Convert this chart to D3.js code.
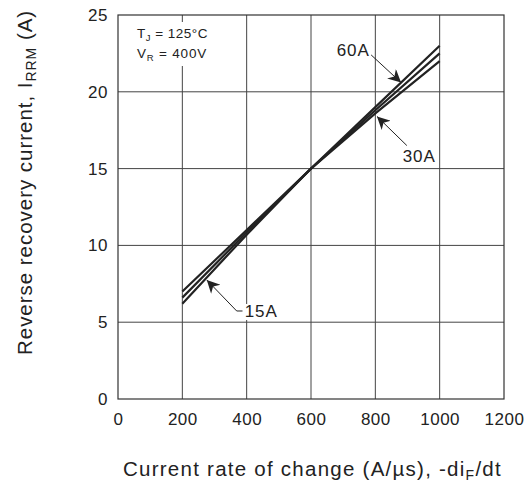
<!DOCTYPE html>
<html>
<head>
<meta charset="utf-8">
<script src="https://cdn.jsdelivr.net/npm/d3@7"></script>
<style>
  body { margin: 0; background: #fff; }
  text { font-family: "Liberation Sans", Arial, sans-serif; fill: #222; }
</style>
</head>
<body>
<div id="chart"></div>
<script>
// di/dt values (A/us) where the curves were read
const rates = [200, 400, 600, 800, 1000];
// IRRM (A) per forward current
const irrm15 = [6.2, 10.7, 15.0, 18.6, 22.0];
const irrm30 = [6.6, 10.85, 15.0, 18.8, 22.5];
const irrm60 = [7.0, 11.0, 15.0, 19.0, 23.0];
const seriesNames = ["15A", "30A", "60A"];

const xTicks = [0, 200, 400, 600, 800, 1000, 1200];
const yTicks = [0, 5, 10, 15, 20, 25];

// arrow labels in data units: text anchor, then leader points ending at the tip
const notes = [
  { label: "60A", tx: 680, ty: 22.3, pts: [[787, 22.4], [880, 20.6]] },
  { label: "30A", tx: 885, ty: 15.4, pts: [[898, 16.5], [805, 18.4]] },
  { label: "15A", tx: 394, ty: 5.34, pts: [[387, 5.73], [369, 5.73], [276, 7.75]] }
];

const W = 532, H = 483;
const margin = { left: 118, right: 28, top: 15, bottom: 84 };

const svg = d3.select("#chart").append("svg")
  .attr("width", W).attr("height", H);

const x = d3.scaleLinear().domain([0, 1200]).range([margin.left, W - margin.right]);
const y = d3.scaleLinear().domain([0, 25]).range([H - margin.bottom, margin.top]);

// the original lettering is tracked wider than Liberation Sans, so spread it
function fitWidth(t, target) {
  t.attr("letter-spacing", 0);
  const w = t.node().getComputedTextLength();
  const n = t.text().length;
  t.attr("letter-spacing", ((target - w) / n).toFixed(2));
}

// grid
svg.append("g")
  .selectAll("line")
  .data(xTicks.slice(1, -1))
  .join("line")
  .attr("x1", d => x(d)).attr("x2", d => x(d))
  .attr("y1", y(0)).attr("y2", y(25))
  .attr("stroke", "#444").attr("stroke-width", 1);

svg.append("g")
  .selectAll("line")
  .data(yTicks.slice(1, -1))
  .join("line")
  .attr("x1", x(0)).attr("x2", x(1200))
  .attr("y1", d => y(d)).attr("y2", d => y(d))
  .attr("stroke", "#444").attr("stroke-width", 1);

svg.append("rect")
  .attr("x", x(0)).attr("y", y(25))
  .attr("width", x(1200) - x(0)).attr("height", y(0) - y(25))
  .attr("fill", "none").attr("stroke", "#333").attr("stroke-width", 1.2);

// tick labels
const xAxis = d3.axisBottom(x).tickValues(xTicks).tickFormat(d3.format("d")).tickSize(0).tickPadding(14);
svg.append("g").attr("transform", `translate(0,${y(0)})`).call(xAxis)
  .call(g => g.select(".domain").remove())
  .selectAll("text").attr("font-size", 17).attr("font-family", null)
  .attr("letter-spacing", 0.5).attr("fill", "#222");

const yAxis = d3.axisLeft(y).tickValues(yTicks).tickFormat(d3.format("d")).tickSize(0).tickPadding(10);
svg.append("g").attr("transform", `translate(${x(0)},0)`).call(yAxis)
  .call(g => g.select(".domain").remove())
  .selectAll("text").attr("font-size", 17).attr("font-family", null)
  .attr("letter-spacing", 0.5).attr("fill", "#222");

// conditions box
svg.append("rect").attr("x", 131).attr("y", 22).attr("width", 86).attr("height", 44).attr("fill", "#fff");
const c1 = svg.append("text").attr("x", 137).attr("y", 38).attr("font-size", 13.5);
c1.append("tspan").text("T");
c1.append("tspan").attr("font-size", 9.5).attr("dy", 3).text("J");
c1.append("tspan").attr("dy", -3).text(" = 125°C");
fitWidth(c1, 71);
const c2 = svg.append("text").attr("x", 137).attr("y", 58).attr("font-size", 13.5);
c2.append("tspan").text("V");
c2.append("tspan").attr("font-size", 9.5).attr("dy", 3).text("R");
c2.append("tspan").attr("dy", -3).text(" = 400V");
fitWidth(c2, 70);

// curves
const line = d3.line().x((d, i) => x(rates[i])).y(d => y(d));
svg.append("g")
  .selectAll("path")
  .data([irrm15, irrm30, irrm60])
  .join("path")
  .attr("d", line)
  .attr("fill", "none")
  .attr("stroke", "#222")
  .attr("stroke-width", 2.2);

// arrow labels
svg.append("defs").append("marker")
  .attr("id", "arr").attr("viewBox", "0 0 10 10")
  .attr("refX", 10).attr("refY", 5)
  .attr("markerWidth", 17).attr("markerHeight", 13)
  .attr("markerUnits", "userSpaceOnUse")
  .attr("orient", "auto")
  .append("path").attr("d", "M0,0 L10,5 L0,10 L3,5 Z").attr("fill", "#222");

notes.forEach(n => {
  const bg = svg.append("rect").attr("fill", "#fff");
  const t = svg.append("text")
    .attr("x", x(n.tx)).attr("y", y(n.ty))
    .attr("font-size", 17).text(n.label);
  fitWidth(t, 33);
  const bb = t.node().getBBox();
  bg.attr("x", bb.x - 1).attr("y", bb.y + 2)
    .attr("width", bb.width + 2).attr("height", bb.height - 3);
  svg.append("path")
    .attr("d", d3.line().x(p => x(p[0])).y(p => y(p[1]))(n.pts))
    .attr("fill", "none").attr("stroke", "#222").attr("stroke-width", 1)
    .attr("marker-end", "url(#arr)");
});

// axis titles
const xt = svg.append("text")
  .attr("x", 123).attr("y", 476)
  .attr("font-size", 20.5);
xt.append("tspan").text("Current rate of change (A/µs), -di");
xt.append("tspan").attr("font-size", 14).attr("dy", 4).text("F");
xt.append("tspan").attr("dy", -4).text("/dt");
fitWidth(xt, 379);

const yt = svg.append("text")
  .attr("transform", `translate(32,355) rotate(-90)`)
  .attr("font-size", 20.5);
yt.append("tspan").text("Reverse recovery current, I");
yt.append("tspan").attr("font-size", 14).attr("dy", 4).text("RRM");
yt.append("tspan").attr("dy", -4).text(" (A)");
fitWidth(yt, 345);
</script>
</body>
</html>
